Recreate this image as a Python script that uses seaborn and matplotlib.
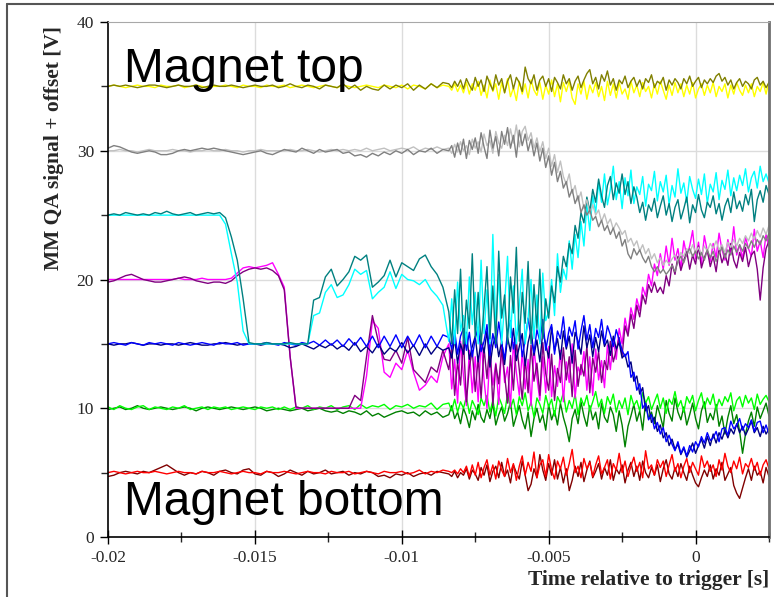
import numpy as np
import pandas as pd
import matplotlib
matplotlib.use("Agg")
import matplotlib.pyplot as plt
import seaborn as sns
from matplotlib.lines import Line2D
from matplotlib.ticker import MultipleLocator, FixedLocator

# Sample-time ranges of the two recorded segments (s)
T_QUIET = (-0.0200, -0.0086)
T_NOISY = (-0.0084, 0.0025)

# Signals (V, before offset): quiet part (_q) and noisy part (_n)
yellow_q = [0.0, 0.1, 0.0, -0.1, 0.0, 0.1, 0.0, 0.0, -0.1, 0.1,
            0.0, 0.0, 0.1, -0.1, 0.0, 0.1, 0.0, -0.1, 0.0, 0.0,
            0.1, 0.0, -0.1, 0.1, 0.0, 0.0, -0.1, 0.1, 0.0, 0.0,
            0.1, -0.1, 0.0, 0.1, 0.0, -0.1, 0.0, 0.1, 0.0, -0.1,
            0.1, 0.0, -0.1, 0.0, 0.1, 0.0, -0.1, 0.1, 0.0, -0.1,
            0.1, -0.2, 0.1, 0.0, -0.2, 0.2, -0.1, 0.1]
yellow_n = [0.0, -0.3, 0.2, -0.4, 0.1, -0.5, 0.3, -0.6, 0.2, -0.3,
            0.4, -0.7, 0.1, -0.9, 0.5, -0.4, 0.2, -1.0, 0.3, -0.5,
            0.6, -0.8, -0.1, -1.1, 0.4, -0.6, 0.2, -0.9, 0.5, -0.3,
            -0.7, 0.3, -1.0, 0.1, -0.6, 0.5, -0.8, 0.2, -1.2, 0.3,
            -0.4, 0.4, -0.9, -1.4, 0.2, -0.6, 0.4, -1.0, 0.1, -0.5,
            0.3, -0.8, 0.0, -1.1, 0.4, -0.7, 0.2, -0.9, 0.3, -0.6,
            -0.2, -1.0, 0.4, -0.5, 0.1, -0.8, 0.3, -0.4, 0.0, -0.9,
            0.2, -0.6, 0.4, -0.3, -1.0, 0.1, -0.7, 0.3, -0.5, 0.2,
            -0.8, 0.1, -0.6, 0.3, -0.9, -0.2, 0.2, -0.7, 0.1, -0.5,
            0.3, -0.8, 0.0, -0.4, 0.2, -0.9, 0.1, -0.6, 0.3, -0.3,
            -0.7, 0.1, -0.5, 0.2, -0.8, 0.0, -0.4, 0.3, -0.6, 0.4]
olive_q = [0.0, 0.1, 0.0, 0.1, 0.0, -0.1, 0.0, 0.1, 0.1, 0.0,
           -0.1, 0.0, 0.1, 0.0, 0.0, 0.1, -0.1, 0.0, 0.1, 0.0,
           0.0, 0.1, 0.0, -0.1, 0.0, 0.1, 0.0, 0.0, 0.1, -0.1,
           0.0, 0.2, 0.0, -0.1, 0.1, 0.0, -0.2, 0.1, 0.0, -0.1,
           0.2, -0.2, 0.1, -0.3, 0.0, -0.2, -0.3, 0.1, -0.2, 0.1,
           -0.1, 0.2, -0.3, 0.1, -0.2, 0.2, -0.1, 0.3]
olive_n = [0.2, -0.1, 0.4, 0.0, 0.5, -0.2, 0.6, 0.1, -0.3, 0.7,
           0.0, 0.5, -0.4, 0.8, 0.2, -0.3, 0.9, 0.1, 0.6, -0.5,
           0.4, 0.9, -0.2, 0.7, 0.3, -0.4, 1.5, 0.6, 0.2, 0.9,
           -0.3, 0.5, 0.8, 0.0, 0.6, -0.4, 0.7, 0.3, -0.2, 0.9,
           0.2, 0.6, -0.3, 0.4, 0.8, -0.1, 0.5, 1.0, 1.3, 0.2,
           0.7, -0.2, 0.9, 0.4, 1.2, 0.1, 0.6, -0.3, 0.5, 0.2,
           0.8, -0.1, 0.4, 0.7, 0.0, 0.5, -0.2, 0.6, 0.3, 0.9,
           -0.1, 0.4, 0.2, 0.7, -0.3, 0.5, 0.1, 0.6, 0.3, -0.2,
           0.6, 0.2, 0.8, 0.0, 0.4, 0.7, -0.1, 0.5, 0.2, 0.6,
           0.3, 0.8, 1.0, 0.4, 0.7, 0.1, 0.5, -0.2, 0.3, 0.6,
           0.0, 0.4, 0.2, -0.2, 0.5, 0.7, 0.1, 0.4, -0.1, 0.3]
silver_q = [0.0, 0.0, 0.1, 0.0, 0.0, -0.1, 0.0, 0.1, 0.0, 0.0,
            0.0, 0.1, 0.0, 0.0, -0.1, 0.0, 0.0, 0.1, 0.0, 0.0,
            0.1, 0.0, 0.0, -0.1, 0.0, 0.0, 0.1, 0.0, 0.0, 0.0,
            0.0, 0.1, 0.0, 0.0, 0.1, 0.0, -0.1, 0.0, 0.1, 0.0,
            0.1, 0.0, 0.1, 0.0, 0.2, 0.0, 0.1, 0.2, 0.0, 0.1,
            0.2, 0.1, 0.3, 0.0, 0.2, 0.1, 0.3, 0.1]
silver_n = [0.2, -0.2, 0.5, -0.1, 0.7, 0.0, 0.4, -0.3, 0.9, 0.2,
            0.7, -0.1, 1.3, 0.4, 0.8, -0.2, 1.5, 0.6, 0.2, 1.2,
            0.4, 1.7, 0.6, 2.0, 0.3, 1.5, 1.9, 0.8, 1.4, 0.2,
            1.0, -0.1, 0.7, -0.6, 0.2, -1.2, -0.3, -1.7, -0.8, -2.0,
            -2.6, -1.8, -3.3, -2.7, -3.9, -3.2, -4.5, -3.8, -4.9, -4.2,
            -5.0, -4.6, -5.5, -4.9, -5.7, -5.3, -6.1, -5.6, -6.0, -6.5,
            -6.2, -7.1, -6.8, -7.4, -7.0, -7.8, -7.3, -8.0, -7.6, -8.4,
            -8.0, -8.7, -8.3, -8.9, -8.5, -8.8, -8.4, -8.1, -8.6, -7.9,
            -8.2, -7.6, -8.0, -7.3, -7.9, -7.5, -8.1, -7.4, -7.8, -7.2,
            -7.6, -7.0, -7.7, -7.3, -7.9, -7.1, -7.5, -6.9, -7.4, -6.8,
            -7.2, -6.6, -7.0, -6.4, -6.9, -6.2, -6.7, -6.0, -6.5, -5.8]
gray_q = [0.2, 0.4, 0.3, 0.1, -0.1, -0.2, -0.1, 0.0, -0.1, -0.3,
          -0.3, -0.2, 0.0, 0.1, 0.0, 0.1, 0.2, 0.1, 0.2, 0.1,
          0.0, -0.1, -0.2, -0.3, -0.2, -0.1, 0.0, -0.2, -0.3, -0.1,
          0.1, 0.0, -0.1, 0.2, 0.0, -0.2, 0.1, -0.1, 0.0, 0.1,
          -0.2, -0.1, -0.4, -0.3, -0.5, -0.2, -0.4, -0.1, -0.3, 0.0,
          -0.2, 0.1, -0.3, 0.0, -0.1, 0.2, -0.2, 0.1]
gray_n = [0.0, 0.4, -0.5, 0.6, -0.3, 0.9, -0.6, 0.8, 0.1, 1.0,
          -0.2, 1.4, 0.3, -0.6, 1.6, 0.2, 1.1, -0.4, 1.5, 0.5,
          1.8, 0.2, 1.2, -0.5, 1.6, 0.4, 1.3, 0.0, 0.9, -0.4,
          0.6, -0.8, 0.2, -1.3, -0.4, -1.9, -0.9, -2.4, -1.6, -2.9,
          -2.4, -3.6, -3.0, -4.1, -3.5, -4.8, -4.2, -5.0, -4.6, -5.4,
          -5.1, -5.9, -5.4, -6.2, -5.8, -6.5, -6.0, -6.8, -6.3, -7.4,
          -6.9, -8.0, -8.4, -7.6, -8.1, -7.7, -8.3, -8.7, -8.2, -9.0,
          -9.4, -9.0, -9.5, -9.2, -9.6, -9.3, -8.9, -9.4, -8.6, -8.2,
          -8.7, -8.0, -7.6, -8.2, -7.8, -8.4, -7.9, -8.5, -7.7, -8.3,
          -7.8, -8.6, -8.0, -7.5, -8.3, -7.7, -8.1, -7.4, -7.9, -7.3,
          -7.8, -7.2, -7.6, -7.0, -7.5, -6.9, -7.3, -6.6, -7.0, -6.4]
cyan_q = [0.0, 0.0, 0.0, 0.0, 0.0, 0.0, 0.0, 0.0, 0.0, 0.0,
          0.0, 0.0, 0.0, 0.0, 0.0, 0.0, 0.0, 0.0, 0.0, 0.0,
          -0.7, -3.0, -5.2, -9.0, -10.0, -10.0, -10.0, -10.0, -10.0, -10.0,
          -10.0, -10.0, -10.0, -10.0, -10.0, -7.8, -7.6, -6.0, -5.4, -6.4,
          -6.2, -5.4, -4.2, -4.6, -4.3, -6.5, -6.0, -5.6, -4.4, -5.7,
          -4.6, -5.0, -5.1, -5.4, -5.0, -5.8, -6.3, -7.0]
cyan_n = [-9.8, -6.5, -10.0, -5.2, -9.0, -7.8, -10.0, -4.8, -8.5, -6.0,
          -10.0, -3.5, -9.2, -5.8, -10.0, -1.5, -8.8, -4.6, -10.0, -6.9,
          -3.2, -9.5, -5.5, -10.0, -7.0, -4.2, -10.0, -8.0, -5.0, -9.6,
          -6.2, -10.0, -4.5, -8.2, -7.5, -5.0, -7.8, -3.0, -6.0, -4.2,
          -5.0, -2.0, -4.2, -1.5, -3.3, -0.5, -2.4, 0.8, -1.2, 1.5,
          0.2, 2.5, 1.0, 3.2, 0.8, 2.0, 3.8, 1.2, 2.6, 0.5,
          2.9, 1.5, 3.5, 0.9, 2.2, 1.6, 3.0, 0.7, 2.4, 1.9,
          3.4, 1.1, 2.6, 1.8, 3.1, 0.8, 2.3, 1.4, 3.6, 1.7,
          2.5, 1.0, 3.0, 2.0, 1.3, 2.8, 1.6, 3.2, 0.9, 2.4,
          1.8, 3.3, 1.2, 2.7, 2.0, 3.5, 1.5, 2.9, 1.9, 3.1,
          2.3, 3.6, 1.8, 2.9, 3.4, 2.1, 3.8, 2.6, 3.2, 2.5]
teal_q = [0.0, 0.1, 0.0, 0.2, 0.1, 0.0, 0.1, 0.0, 0.2, 0.1,
          0.3, 0.1, 0.0, 0.1, 0.2, 0.0, 0.1, 0.2, 0.1, 0.2,
          -0.2, -1.7, -3.5, -6.5, -9.9, -10.0, -10.0, -9.9, -10.0, -10.0,
          -10.0, -9.9, -10.0, -10.0, -10.0, -6.6, -6.4, -4.8, -4.2, -5.5,
          -5.0, -4.4, -3.2, -3.5, -3.1, -5.6, -5.2, -4.7, -3.5, -4.8,
          -3.7, -4.0, -4.3, -3.4, -3.1, -4.0, -4.6, -5.6]
teal_n = [-7.5, -10.0, -5.8, -9.2, -4.2, -10.0, -6.6, -8.8, -3.0, -9.5,
          -6.0, -10.0, -7.2, -4.0, -9.6, -5.5, -10.0, -2.8, -8.0, -6.2,
          -10.0, -4.8, -7.6, -2.5, -9.8, -6.0, -8.4, -3.6, -10.0, -5.4,
          -8.8, -4.2, -9.6, -6.5, -8.0, -5.5, -6.8, -4.0, -5.2, -3.2,
          -4.0, -2.2, -3.0, -0.8, -1.8, 0.2, -0.6, 1.4, 0.3, 2.0,
          1.0, 2.8, 1.5, 0.6, 2.3, 3.0, 1.2, 2.5, 1.7, 3.2,
          1.6, 2.6, 0.9, 2.2, 1.4, 0.2, 1.0, -0.4, 0.8, 0.3,
          1.3, -0.2, 0.7, 1.5, 0.0, 0.9, -0.5, 0.6, 1.2, -0.3,
          0.5, 1.4, -0.6, 0.8, 0.2, 1.6, 0.4, -0.2, 1.0, 0.6,
          1.5, 0.1, 0.9, -0.4, 0.7, 1.3, 0.2, 1.8, 0.5, 1.1,
          0.3, 1.6, 0.8, 2.0, -0.5, 1.2, 1.9, 1.0, 2.3, 1.6]
magenta_q = [0.0, 0.0, 0.0, 0.0, 0.0, 0.0, 0.0, 0.0, 0.0, 0.0,
             0.0, 0.0, 0.1, 0.0, 0.0, 0.0, 0.1, 0.0, 0.0, 0.0,
             0.0, 0.1, 0.5, 0.9, 1.0, 0.9, 1.0, 1.1, 1.3, 0.4,
             -0.6, -6.0, -10.0, -10.0, -10.0, -10.0, -10.0, -10.0, -10.0, -10.0,
             -10.0, -10.0, -10.0, -10.0, -7.5, -3.2, -3.8, -7.2, -7.6, -6.5,
             -7.0, -5.5, -7.2, -8.6, -8.2, -7.5, -8.0, -6.0]
magenta_n = [-5.0, -8.5, -6.2, -9.6, -4.8, -7.5, -9.8, -5.5, -8.8, -6.0,
             -9.5, -4.6, -7.8, -10.0, -5.8, -8.2, -6.5, -9.7, -5.0, -8.0,
             -6.8, -9.9, -4.9, -7.2, -9.0, -5.6, -8.5, -6.2, -9.8, -5.3,
             -7.6, -9.4, -6.0, -8.8, -5.2, -9.1, -6.7, -8.3, -5.5, -9.5,
             -6.4, -8.0, -5.0, -9.2, -6.8, -7.4, -5.6, -8.6, -6.0, -9.0,
             -5.4, -7.8, -6.3, -8.4, -5.1, -7.0, -4.6, -6.2, -3.8, -5.0,
             -3.0, -4.2, -2.2, -3.1, -1.5, -2.4, -0.6, -1.3, 0.4, -0.5,
             1.2, 0.3, 2.0, 0.8, 2.6, 1.1, 3.2, 1.5, 2.4, 0.9,
             3.0, 1.8, 2.6, 3.8, 1.6, 2.9, 1.2, 3.4, 2.2, 1.4,
             2.8, 1.7, 3.6, 2.3, 1.5, 3.1, 2.0, 4.1, 1.9, 2.7,
             1.6, 3.3, 2.4, 1.8, 3.9, 2.2, 3.0, 1.7, 3.5, 2.6]
purple_q = [-0.2, -0.1, 0.1, 0.3, 0.4, 0.2, 0.0, -0.1, -0.2, -0.2,
            -0.1, 0.0, 0.1, 0.2, 0.1, -0.1, -0.2, -0.3, -0.2, -0.2,
            -0.3, -0.1, 0.3, 0.6, 0.8, 0.9, 0.8, 0.9, 0.7, 0.3,
            -0.8, -6.0, -9.9, -10.0, -10.0, -10.0, -10.0, -10.0, -10.0, -10.0,
            -10.0, -10.0, -9.0, -9.4, -6.0, -2.8, -4.8, -6.2, -6.3, -5.5,
            -6.5, -4.5, -7.0, -7.5, -8.0, -6.8, -7.2, -5.5]
purple_n = [-7.0, -5.2, -9.0, -6.4, -8.2, -4.7, -9.5, -6.8, -5.5, -8.7,
            -6.1, -9.2, -5.3, -7.7, -4.9, -9.8, -6.6, -8.1, -5.4, -7.4,
            -9.6, -5.9, -8.6, -4.8, -7.0, -9.3, -6.2, -8.8, -5.1, -7.9,
            -6.5, -9.0, -4.9, -7.3, -8.6, -5.8, -9.4, -6.9, -8.0, -5.3,
            -7.8, -6.0, -9.1, -5.5, -8.3, -6.6, -7.5, -5.2, -8.8, -6.1,
            -7.2, -5.6, -8.0, -6.3, -7.0, -4.8, -6.4, -5.5, -4.5, -5.9,
            -3.6, -4.4, -2.7, -3.8, -2.0, -2.9, -1.2, -1.9, -0.4, -1.0,
            -0.2, -1.0, -0.6, -1.1, 0.3, -0.5, 1.2, 0.4, 1.8, 0.7,
            1.5, 2.2, 0.8, 1.9, 1.2, 2.6, 0.9, 1.7, 2.3, 1.0,
            1.8, 0.6, 2.4, 1.3, 2.0, 1.1, 2.8, 1.5, 0.9, 2.1,
            1.4, 2.5, 1.0, 1.9, 2.2, 0.8, -1.6, 0.9, 2.4, 3.0]
blue_q = [0.0, 0.1, 0.0, -0.1, 0.1, 0.0, -0.1, 0.1, 0.0, 0.1,
          0.0, -0.1, 0.1, 0.0, -0.1, 0.0, 0.1, 0.0, -0.1, 0.1,
          0.0, 0.0, 0.1, -0.1, 0.0, 0.0, 0.0, 0.1, 0.0, -0.1,
          0.1, 0.0, -0.1, 0.1, 0.0, 0.2, -0.1, 0.3, -0.1, 0.3,
          -0.2, 0.4, -0.1, 0.5, -0.2, 0.6, -0.3, 0.6, -0.2, 0.7,
          -0.3, 0.6, -0.2, 0.7, -0.3, 0.6, -0.2, 0.7]
blue_n = [0.5, -0.4, 1.0, -0.8, 0.6, 1.2, -0.5, 0.9, -1.0, 0.4,
          1.3, -0.6, 0.2, 1.5, -0.9, 0.8, -0.3, 1.7, 0.1, -1.2,
          0.9, 1.8, -0.4, 0.6, 1.4, -1.0, 0.3, 2.0, 0.5, -0.7,
          1.1, 0.2, 1.9, -0.5, 0.8, 1.5, -0.8, 1.0, 0.4, 2.1,
          -0.2, 1.3, 0.6, 1.8, -0.4, 1.0, 2.2, 0.3, 1.5, -0.3,
          1.2, 0.5, 1.9, 0.0, 1.4, 0.7, -0.2, 1.1, 0.3, -0.5,
          -1.0, -0.6, -2.6, -2.2, -3.6, -3.1, -5.0, -4.6, -5.9, -5.5,
          -6.6, -6.1, -7.0, -6.5, -7.6, -7.1, -7.8, -8.3, -7.6, -8.5,
          -8.0, -8.7, -7.9, -8.4, -7.6, -8.0, -7.2, -7.7, -6.9, -7.5,
          -7.3, -6.8, -7.6, -6.6, -6.5, -7.1, -6.0, -6.6, -6.3, -5.8,
          -6.7, -6.2, -6.5, -5.9, -6.8, -6.1, -6.0, -6.9, -6.3, -7.0]
navy_q = [0.0, -0.1, 0.0, 0.0, 0.1, 0.0, -0.1, 0.0, 0.0, -0.1,
          0.0, 0.0, -0.1, 0.0, 0.1, 0.0, -0.1, -0.1, 0.0, 0.0,
          0.1, 0.0, -0.1, 0.0, 0.0, 0.0, -0.1, 0.0, 0.0, 0.0,
          -0.1, -0.3, -0.2, 0.0, -0.2, -0.4, -0.1, -0.3, 0.0, -0.4,
          -0.1, -0.5, 0.1, -0.6, -0.2, -0.7, 0.0, -0.8, -0.3, -0.6,
          0.1, -0.7, -0.1, -0.9, 0.0, -0.8, -0.2, -0.5]
navy_n = [-0.3, -1.1, 0.4, -1.5, 0.0, -0.8, 0.9, -1.2, -0.2, 0.6,
          -1.4, 0.3, -0.7, 1.0, -1.8, -0.1, 0.7, -1.0, 0.2, -1.6,
          0.5, -0.6, 1.2, -1.3, -0.2, 0.8, -1.7, 0.1, 1.1, -0.9,
          0.3, -1.4, 0.9, 0.0, -1.1, 1.3, -0.5, 0.4, -1.2, 1.0,
          -0.4, 0.6, -1.5, 0.9, 0.2, -0.8, 1.4, -0.3, 0.7, -1.0,
          0.5, -0.6, 1.0, -0.2, 0.3, -0.9, 0.6, -0.4, 0.1, -1.1,
          -0.8, -1.8, -1.4, -2.9, -2.5, -3.9, -3.4, -5.2, -4.8, -6.1,
          -5.7, -6.8, -6.3, -7.3, -6.9, -7.9, -7.4, -8.2, -7.8, -8.6,
          -8.1, -8.8, -8.3, -7.7, -8.5, -7.9, -7.4, -8.1, -7.2, -7.9,
          -7.0, -7.7, -6.9, -7.4, -6.7, -7.3, -6.6, -7.0, -6.2, -6.9,
          -6.4, -7.1, -6.6, -6.0, -6.9, -6.5, -7.2, -6.4, -7.0, -6.6]
lime_q = [0.1, -0.1, 0.2, 0.0, -0.1, 0.1, 0.2, -0.1, 0.1, 0.0,
          -0.1, 0.1, 0.0, 0.2, -0.1, 0.0, 0.1, -0.1, 0.1, 0.0,
          0.1, -0.1, 0.0, 0.1, 0.0, -0.1, 0.1, 0.0, 0.1, -0.1,
          0.1, -0.1, 0.1, 0.0, 0.2, -0.1, 0.1, 0.0, 0.2, -0.1,
          0.1, 0.2, -0.1, 0.3, 0.0, 0.2, 0.1, 0.3, -0.1, 0.2,
          0.1, 0.3, 0.0, 0.2, 0.1, 0.4, -0.1, 0.3]
lime_n = [0.4, -0.2, 0.7, -0.3, 0.5, 0.0, 0.9, -0.4, 0.6, 0.1,
          -0.5, 0.8, 0.2, 1.0, -0.3, 0.6, -0.6, 0.9, 0.3, -0.4,
          1.1, 0.0, 0.7, -0.5, 0.9, 0.2, 1.2, -0.2, 0.5, -0.7,
          0.8, 0.3, -0.4, 1.0, 0.1, 0.7, -0.6, 0.9, 0.4, 1.2,
          -0.3, 0.6, 0.0, 1.1, -0.5, 0.8, 0.2, 1.0, -0.2, 0.5,
          1.3, 0.1, 0.7, -0.4, 0.9, 0.3, 1.1, -0.3, 0.6, 0.0,
          0.8, -0.5, 1.0, 0.2, 0.6, -0.2, 1.2, 0.4, 0.9, -0.1,
          0.5, 1.1, 0.0, 0.8, -0.4, 0.7, 0.3, 1.3, 0.1, 0.6,
          -0.3, 0.9, 0.4, 1.0, -0.2, 0.6, 1.2, 0.0, 0.8, 0.3,
          1.1, -0.1, 0.7, 0.2, 0.9, 0.5, 1.2, -0.2, 0.6, 0.9,
          0.1, 1.0, 0.4, 0.8, -0.1, 1.1, 0.3, 0.7, 1.0, 0.5]
green_q = [-0.1, 0.0, 0.1, -0.1, 0.0, 0.2, 0.0, -0.1, 0.0, 0.1,
           0.0, -0.1, 0.0, 0.1, 0.0, -0.2, 0.0, 0.1, 0.0, -0.1,
           0.0, 0.1, 0.0, -0.1, 0.0, 0.1, 0.0, -0.2, -0.1, 0.0,
           -0.1, -0.2, -0.1, 0.0, -0.2, -0.1, 0.0, -0.2, -0.3, -0.2,
           -0.4, -0.2, -0.3, -0.5, -0.2, -0.6, -0.4, -0.7, -0.5, -0.3,
           -0.2, -0.4, -0.3, -0.6, -0.2, -0.5, -0.3, -0.7]
green_n = [-0.5, 0.2, -0.8, -0.3, -1.2, 0.0, -0.6, -1.5, -0.2, -0.9,
           0.3, -0.7, -1.1, -0.1, -0.8, 0.4, -1.3, -0.5, 0.1, -1.0,
           -0.4, 0.5, -1.4, -0.6, 0.2, -0.9, -1.6, -0.3, -2.2, -0.8,
           0.0, -1.1, -0.5, -1.7, 0.3, -0.9, -0.2, -1.3, 0.4, -0.7,
           -1.5, -2.6, -0.8, -0.1, -1.2, 0.5, -0.6, -1.4, 0.2, -0.9,
           -0.3, -1.6, 0.4, -0.7, -1.1, 0.1, -0.5, -1.8, -0.2, -1.3,
           -3.0, -1.4, -0.6, 0.3, -1.0, -0.2, -1.7, 0.5, -0.8, -0.3,
           -1.2, 0.2, -0.6, -1.5, 0.6, -0.4, -1.0, 0.8, -0.3, -0.9,
           0.1, -1.3, -0.5, 0.4, -0.8, -1.6, -0.2, 0.5, -1.1, -0.4,
           -0.9, 0.3, -1.4, -0.6, -2.0, -0.7, 0.2, -1.2, -0.5, -1.8,
           -3.5, -2.0, -1.0, -0.3, -1.4, 0.1, -0.8, -0.2, 0.4, -0.6]
red_q = [0.0, 0.1, 0.0, -0.1, 0.0, 0.1, 0.0, 0.0, 0.1, 0.0,
         -0.1, 0.0, 0.1, 0.0, 0.0, -0.1, 0.1, 0.0, 0.0, 0.1,
         0.0, -0.1, 0.0, 0.1, 0.0, 0.0, -0.1, 0.1, 0.0, 0.0,
         0.1, 0.0, -0.1, 0.0, 0.1, 0.0, 0.0, -0.1, 0.1, 0.0,
         0.0, 0.1, -0.1, 0.0, 0.1, 0.0, -0.1, 0.1, 0.0, 0.0,
         0.1, -0.1, 0.0, 0.2, -0.1, 0.1, 0.0, 0.2]
red_n = [0.1, 0.0, 0.2, -0.1, 0.3, 0.0, 0.5, -0.3, 0.6, -0.2,
         0.8, -0.4, 0.4, 1.0, -0.2, 0.6, -0.5, 0.9, 0.2, -0.3,
         1.1, 0.0, 0.7, -0.6, 0.5, 1.3, -0.2, 0.8, 0.1, 1.6,
         -0.4, 0.6, 1.0, -0.3, 1.4, 0.2, -0.5, 0.9, 0.3, 1.2,
         -0.2, 0.7, 1.8, 0.0, 0.5, -0.4, 1.1, 0.3, 0.8, -0.3,
         0.6, 1.3, -0.1, 0.4, 1.0, -0.5, 0.7, 0.2, 1.5, 0.0,
         0.9, -0.3, 0.5, 1.2, 0.1, 0.8, -0.4, 1.7, 0.3, 0.6,
         -0.2, 1.0, 0.4, 0.9, -0.3, 0.6, 1.4, 0.1, 0.7, -0.4,
         0.5, 1.1, 0.0, 0.8, 0.3, -0.2, 1.3, 0.4, 0.9, 0.1,
         0.6, -0.3, 1.0, 0.2, 1.5, 0.5, 0.0, 0.9, 0.3, 1.2,
         -0.1, 0.7, 0.4, 1.1, 0.2, 0.8, -0.2, 0.6, 1.0, 0.3]
maroon_q = [-0.3, -0.2, 0.0, 0.1, 0.0, -0.1, 0.1, 0.0, 0.2, 0.4,
            0.6, 0.3, 0.0, -0.2, 0.0, -0.1, 0.1, 0.0, -0.2, 0.1,
            0.2, 0.0, -0.1, 0.2, 0.3, -0.1, -0.2, 0.1, 0.0, -0.3,
            -0.1, 0.2, 0.0, -0.2, 0.1, -0.1, 0.0, 0.2, -0.1, 0.0,
            0.1, -0.2, 0.0, -0.1, 0.1, 0.0, -0.3, -0.2, -0.4, -0.1,
            -0.2, 0.0, -0.3, -0.1, 0.0, -0.2, 0.1, 0.0]
maroon_n = [-0.1, -0.3, 0.1, -0.4, 0.0, -0.2, 0.3, -0.5, 0.2, -0.1,
            -0.6, 0.4, -0.2, 0.6, -0.7, 0.1, 0.5, -0.4, 0.8, -0.3,
            0.2, -0.8, 0.6, 0.0, -0.5, 0.9, -0.2, -1.4, -0.9, 0.3,
            -0.4, 1.4, 0.2, -0.6, 0.7, -0.2, 1.0, -0.5, 0.4, -0.8,
            0.3, -1.4, -0.6, 0.5, -0.3, 0.8, -0.7, 0.2, 0.9, -0.4,
            0.1, 0.7, -0.5, 0.4, -0.2, 1.0, -0.6, 0.3, -0.1, 0.6,
            -0.8, 0.2, 0.8, -0.3, 0.5, -0.6, 0.9, 0.0, -0.4, 0.4,
            -0.2, 0.6, -0.7, 0.3, 1.0, -0.1, -0.5, 0.4, -0.3, 0.7,
            0.0, -0.6, 0.5, -0.2, -0.8, -1.1, -0.4, 0.2, -0.3, 0.6,
            -0.5, 0.3, -0.2, 0.8, -0.6, -0.1, 0.4, -1.0, -1.6, -2.0,
            -1.2, -0.4, 0.3, -0.6, 0.5, -0.2, 0.1, -0.8, 0.4, -0.3]

# Draw order (bottom to top), offsets and colours of each channel
SERIES = ["maroon", "red", "green", "lime", "magenta", "purple", "navy", "blue",
          "cyan", "teal", "silver", "gray", "yellow", "olive"]
OFFSETS = [5, 5, 10, 10, 20, 20, 15, 15, 25, 25, 30, 30, 35, 35]
COLORS = ["#800000", "#ff0000", "#008000", "#00ff00", "#ff00ff", "#800080",
          "#000080", "#0000ff", "#00ffff", "#008080", "#c0c0c0", "#808080",
          "#ffff00", "#808000"]
QUIET = [maroon_q, red_q, green_q, lime_q, magenta_q, purple_q, navy_q, blue_q,
         cyan_q, teal_q, silver_q, gray_q, yellow_q, olive_q]
NOISY = [maroon_n, red_n, green_n, lime_n, magenta_n, purple_n, navy_n, blue_n,
         cyan_n, teal_n, silver_n, gray_n, yellow_n, olive_n]

X_TICKS = [-0.02, -0.015, -0.01, -0.005, 0.0]
X_TICK_LABELS = ["-0.02", "-0.015", "-0.01", "-0.005", "0"]
Y_TICKS = [0, 10, 20, 30, 40]

frames = []
for name, off, q, n in zip(SERIES, OFFSETS, QUIET, NOISY):
    tq = np.linspace(T_QUIET[0], T_QUIET[1], len(q))
    tn = np.linspace(T_NOISY[0], T_NOISY[1], len(n))
    frames.append(pd.DataFrame({
        "time": np.concatenate([tq, tn]),
        "signal": np.concatenate([np.asarray(q), np.asarray(n)]) + off,
        "series": name,
    }))
df = pd.concat(frames, ignore_index=True)

sns.set_theme(style="white")
plt.rcParams["font.family"] = ["Liberation Serif", "DejaVu Serif"]

W, H = 774, 597
fig = plt.figure(figsize=(W / 100, H / 100), dpi=100)
fig.patch.set_facecolor("white")
ax = fig.add_axes([108 / W, 1 - 537 / H, (769 - 108) / W, (537 - 22) / H])

for xv in X_TICKS[1:]:
    ax.axvline(xv, color="#dcdcdc", lw=1.0, zorder=0)
for yv in [10, 20, 30]:
    ax.axhline(yv, color="#dcdcdc", lw=1.0, zorder=0)

sns.lineplot(data=df, x="time", y="signal", hue="series", hue_order=SERIES,
             palette=dict(zip(SERIES, COLORS)), estimator=None, sort=False,
             legend=False, lw=1.0, ax=ax, zorder=2)

ax.set_xlim(-0.02, 0.0025)
ax.set_ylim(0, 40)
ax.set_xticks(X_TICKS)
ax.set_xticklabels(X_TICK_LABELS)
ax.xaxis.set_minor_locator(FixedLocator([-0.0175, -0.0125, -0.0075, -0.0025, 0.0025]))
ax.set_yticks(Y_TICKS)
ax.yaxis.set_minor_locator(FixedLocator([5, 15, 25, 35]))
ax.set_xlabel("")
ax.set_ylabel("")

ax.tick_params(axis="y", which="major", direction="out", length=6, width=1.0,
               labelsize=12.5, pad=4, color="black", left=True)
ax.tick_params(axis="y", which="minor", direction="out", length=5, width=1.0, left=True)
ax.tick_params(axis="x", which="major", direction="inout", length=10, width=1.0,
               labelsize=12.5, pad=4, color="black", bottom=True)
ax.tick_params(axis="x", which="minor", direction="inout", length=7, width=1.0, bottom=True)

for s in ["left", "bottom"]:
    ax.spines[s].set_color("black")
    ax.spines[s].set_linewidth(1.2)
ax.spines["top"].set_color("#a8a8a8")
ax.spines["top"].set_linewidth(0.8)
ax.spines["right"].set_color("#707070")
ax.spines["right"].set_linewidth(2.0)

ax.text(-0.01946, 35.34, "Magnet top", family=["Liberation Sans", "DejaVu Sans"],
        fontsize=34.5, ha="left", va="baseline", color="black", zorder=5)
ax.text(-0.01946, 1.71, "Magnet bottom", family=["Liberation Sans", "DejaVu Sans"],
        fontsize=34.5, ha="left", va="baseline", color="black", zorder=5)

fig.text(769 / W, 1 - 580 / H, "Time relative to trigger [s]", fontsize=15.5,
         fontweight="bold", ha="right", va="center")
fig.text(54 / W, 1 - 148 / H, "MM QA signal + offset [V]", fontsize=15.5,
         fontweight="bold", ha="center", va="center", rotation=90)

# outer frame of the original picture (left and top edges)
fig.add_artist(Line2D([7 / W, 7 / W], [0, 1 - 4 / H], transform=fig.transFigure,
                      color="#555555", lw=1.5))
fig.add_artist(Line2D([7 / W, 1], [1 - 4 / H, 1 - 4 / H], transform=fig.transFigure,
                      color="#555555", lw=1.5))

fig.savefig("out.png", dpi=100)
